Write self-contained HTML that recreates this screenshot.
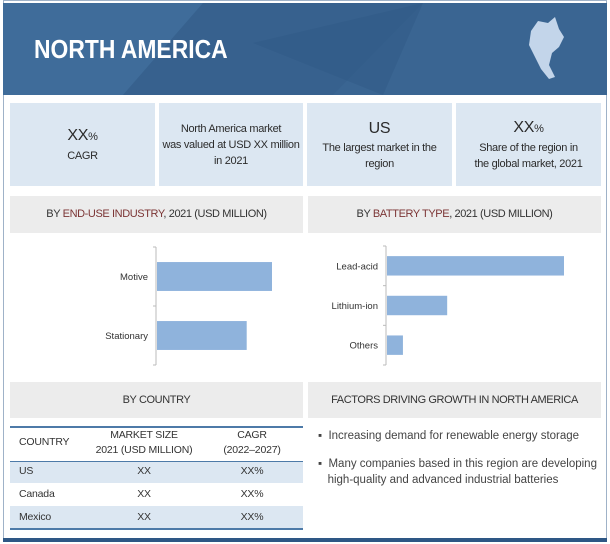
<!DOCTYPE html>
<html><head><meta charset="utf-8"><style>
*{margin:0;padding:0;box-sizing:border-box}
body{width:610px;height:544px;background:#fff;font-family:"Liberation Sans",sans-serif;position:relative;overflow:hidden;color:#333}
.abs{position:absolute}
.box{position:absolute;background:#dce7f2;text-align:center;font-size:11px;letter-spacing:-0.3px;color:#2b2b2b;display:flex;flex-direction:column;justify-content:center;line-height:16px}
.big{font-size:16px;line-height:22px}
.hdr{position:absolute;background:#ececec;font-size:11px;letter-spacing:-0.4px;color:#333;text-align:center;line-height:37px}
.red{color:#7b3434}
.cell{position:absolute;font-size:10.5px;letter-spacing:-0.2px;color:#333}
</style></head><body>
<div class="abs" style="left:3px;top:0;width:604px;height:541px;border:1px solid #9fb2c8"></div>
<svg class="abs" style="left:3px;top:3px" width="604" height="92">
<rect width="604" height="92" fill="#3d6794"/>
<polygon points="0,0 200,0 120,92 0,92" fill="#41709e" opacity="0.6"/>
<polygon points="200,0 420,0 330,92 120,92" fill="#35608c" opacity="0.7"/>
<polygon points="420,0 604,0 604,92 330,92" fill="#3a6592"/>
<polygon points="250,40 420,0 380,92" fill="#2f5a86" opacity="0.5"/>
<path d="M528,28 L535,18 L545,20 L552,14 L556,26 L561,34 L556,44 L549,50 L546,62 L552,74 L546,76 L538,66 L532,54 L526,42 Z" fill="#c3d5ea"/>
</svg>
<div class="abs" style="left:34px;top:34px;font-size:26px;font-weight:bold;color:#fff;transform:scaleX(0.88);transform-origin:left">NORTH AMERICA</div>

<div class="box" style="left:10px;top:103px;width:145px;height:83px"><span class="big">XX<small style="font-size:11px">%</small></span><span>CAGR</span></div>
<div class="box" style="left:159px;top:103px;width:144px;height:83px"><span>North America market</span><span>was valued at USD XX million</span><span>in 2021</span></div>
<div class="box" style="left:307px;top:103px;width:145px;height:83px"><span class="big">US</span><span>The largest market in the</span><span>region</span></div>
<div class="box" style="left:456px;top:103px;width:145px;height:83px"><span class="big">XX<small style="font-size:11px">%</small></span><span>Share of the region in</span><span>the global market, 2021</span></div>

<div class="hdr" style="left:10px;top:196px;width:293px;height:37px">BY <span class="red">END-USE INDUSTRY</span>, 2021 (USD MILLION)</div>
<div class="hdr" style="left:308px;top:196px;width:293px;height:37px">BY <span class="red">BATTERY TYPE</span>, 2021 (USD MILLION)</div>

<svg class="abs" id="charts" style="left:0;top:0" width="610" height="380"></svg>

<div class="hdr" style="left:10px;top:382px;width:293px;height:36px">BY COUNTRY</div>
<div class="hdr" style="left:308px;top:382px;width:293px;height:36px">FACTORS DRIVING GROWTH IN NORTH AMERICA</div>

<div class="abs" style="left:10px;top:426px;width:293px;height:2px;background:#4d7aa8"></div>
<div class="cell" style="left:19px;top:436px">COUNTRY</div>
<div class="cell" style="left:84px;top:428px;width:120px;text-align:center;line-height:15px">MARKET SIZE<br>2021 (USD MILLION)</div>
<div class="cell" style="left:202px;top:428px;width:100px;text-align:center;line-height:15px">CAGR<br>(2022–2027)</div>
<div class="abs" style="left:10px;top:461px;width:293px;height:1px;background:#4d7aa8"></div>
<div class="abs" style="left:10px;top:462px;width:293px;height:21px;background:#dce7f2"></div>
<div class="abs" style="left:10px;top:506px;width:293px;height:22px;background:#dce7f2"></div>
<div class="abs" style="left:10px;top:528px;width:293px;height:2px;background:#4d7aa8"></div>
<div class="cell" style="left:19px;top:465px">US</div>
<div class="cell" style="left:84px;top:465px;width:120px;text-align:center">XX</div>
<div class="cell" style="left:202px;top:465px;width:100px;text-align:center">XX%</div>
<div class="cell" style="left:19px;top:488px">Canada</div>
<div class="cell" style="left:84px;top:488px;width:120px;text-align:center">XX</div>
<div class="cell" style="left:202px;top:488px;width:100px;text-align:center">XX%</div>
<div class="cell" style="left:19px;top:511px">Mexico</div>
<div class="cell" style="left:84px;top:511px;width:120px;text-align:center">XX</div>
<div class="cell" style="left:202px;top:511px;width:100px;text-align:center">XX%</div>

<div class="abs" style="left:318px;top:429px;font-size:11.5px;color:#444;line-height:15px">▪&nbsp; Increasing demand for renewable energy storage</div>
<div class="abs" style="left:318px;top:456px;font-size:11.5px;color:#444;line-height:16px">▪&nbsp; Many companies based in this region are developing<br>&nbsp;&nbsp;&nbsp;high-quality and advanced industrial batteries</div>

<div class="abs" style="left:3px;top:538px;width:604px;height:4px;background:#2e5785"></div>

<script>
const endUseCats = ["Motive","Stationary"];
const endUseVals = [100, 78];
const batteryCats = ["Lead-acid","Lithium-ion","Others"];
const batteryVals = [100, 34, 9];
const svg = document.getElementById('charts');
const NS = "http://www.w3.org/2000/svg";
function drawChart(name, cats, vals, x0, y0, y1, pxPerUnit, barFrac){
  const ax = document.createElementNS(NS,'line');
  ax.setAttribute('x1',x0);ax.setAttribute('x2',x0);ax.setAttribute('y1',y0);ax.setAttribute('y2',y1);
  ax.setAttribute('stroke','#bbb');
  
  
  svg.appendChild(ax);
  const band = (y1-y0)/cats.length;
  for(let i=0;i<=cats.length;i++){
    const t=document.createElementNS(NS,'line');
    t.setAttribute('x1',x0-3);t.setAttribute('x2',x0);t.setAttribute('y1',y0+i*band);t.setAttribute('y2',y0+i*band);
    t.setAttribute('stroke','#bbb');
    
    
    svg.appendChild(t);
  }
  cats.forEach((c,i)=>{
    const bh = band*barFrac;
    const by = y0+i*band+(band-bh)/2;
    const r=document.createElementNS(NS,'rect');
    r.setAttribute('x',x0+1);r.setAttribute('y',by);
    r.setAttribute('width',vals[i]*pxPerUnit);r.setAttribute('height',bh);
    r.setAttribute('fill','#8fb3dc');
    
    
    svg.appendChild(r);
    const tx=document.createElementNS(NS,'text');
    tx.setAttribute('x',x0-8);tx.setAttribute('y',by+bh/2+3.5);
    tx.setAttribute('text-anchor','end');tx.setAttribute('font-size','9.5');
    tx.setAttribute('font-family','Liberation Sans, sans-serif');
    tx.setAttribute('fill','#333');
    tx.textContent=c;
    
    
    svg.appendChild(tx);
  });
}
drawChart('end-use', endUseCats, endUseVals, 156, 247, 365, 1.15, 0.49);
drawChart('battery', batteryCats, batteryVals, 386, 246, 365, 1.77, 0.49);
</script>
</body></html>
